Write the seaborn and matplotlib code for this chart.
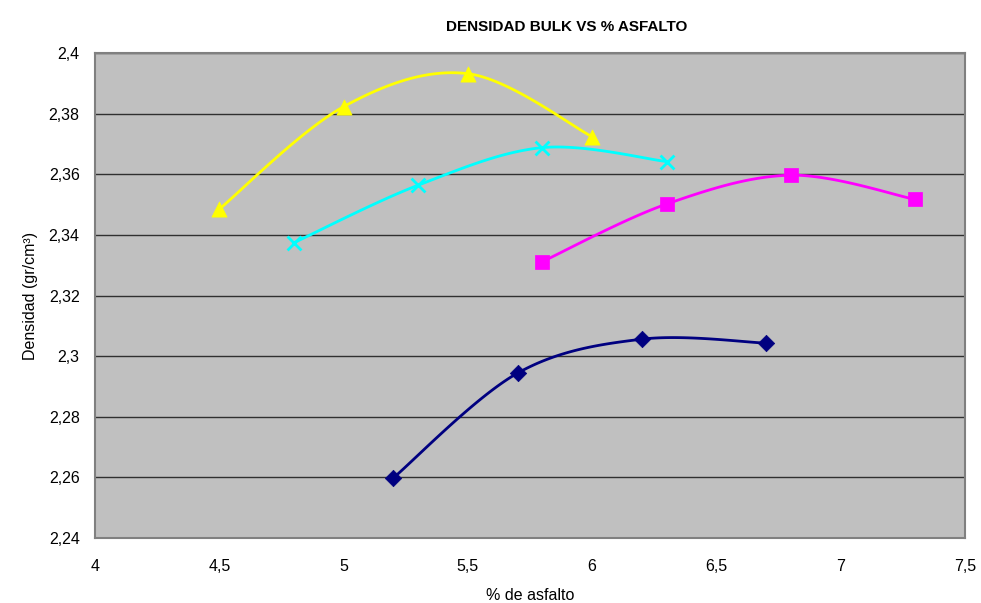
import numpy as np
import pandas as pd
import matplotlib

matplotlib.use("Agg")
import matplotlib.pyplot as plt
import seaborn as sns
from matplotlib.ticker import FuncFormatter, MultipleLocator

# data
x_blue = [5.2, 5.7, 6.2, 6.7]
y_blue = [2.2598, 2.2944, 2.3056, 2.3043]

x_magenta = [5.8, 6.3, 6.8, 7.3]
y_magenta = [2.3312, 2.3502, 2.3597, 2.3517]

x_cyan = [4.8, 5.3, 5.8, 6.3]
y_cyan = [2.3374, 2.3564, 2.3688, 2.3642]

x_yellow = [4.5, 5.0, 5.5, 6.0]
y_yellow = [2.3485, 2.3823, 2.3932, 2.3724]


def smooth(xs, ys, n=40):
    """excel style smoothed line (catmull-rom as bezier)"""
    p = np.column_stack([xs, ys]).astype(float)
    pts = np.vstack([p[0], p, p[-1]])
    t = np.linspace(0, 1, n)[:, None]
    out = []
    for i in range(1, len(pts) - 2):
        p0, p1, p2, p3 = pts[i - 1], pts[i], pts[i + 1], pts[i + 2]
        c1 = p1 + (p2 - p0) / 6
        c2 = p2 - (p3 - p1) / 6
        seg = ((1 - t) ** 3) * p1 + 3 * ((1 - t) ** 2) * t * c1 + 3 * (1 - t) * t ** 2 * c2 + t ** 3 * p2
        out.append(seg)
    out = np.vstack(out)
    return pd.DataFrame({"x": out[:, 0], "y": out[:, 1]})


sns.set_style("white")
plt.rcParams["font.family"] = ["Liberation Sans", "DejaVu Sans"]
plt.rcParams["text.color"] = "black"
plt.rcParams["axes.labelcolor"] = "black"
plt.rcParams["xtick.color"] = "black"
plt.rcParams["ytick.color"] = "black"

fig = plt.figure(figsize=(9.81, 6.03), dpi=100)
ax = fig.add_axes([0.0968, 0.1078, 0.8869, 0.8042])
ax.set_facecolor("#C0C0C0")

series = [
    (x_blue, y_blue, "#000080", "D", 70),
    (x_magenta, y_magenta, "#FF00FF", "s", 95),
    (x_cyan, y_cyan, "#00FFFF", "x", 100),
    (x_yellow, y_yellow, "#FFFF00", "^", 120),
]

for xs, ys, col, mk, sz in series:
    curve = smooth(xs, ys)
    sns.lineplot(data=curve, x="x", y="y", sort=False, color=col, lw=2, ax=ax, zorder=3)
    pts = pd.DataFrame({"x": xs, "y": ys})
    if mk == "x":
        sns.scatterplot(data=pts, x="x", y="y", marker=mk, s=sz, color=col,
                        linewidth=2, ax=ax, zorder=4)
    else:
        sns.scatterplot(data=pts, x="x", y="y", marker=mk, s=sz, color=col,
                        edgecolor=col, linewidth=0.5, ax=ax, zorder=4)

ax.set_xlim(4, 7.5)
ax.set_ylim(2.24, 2.40)
ax.xaxis.set_major_locator(MultipleLocator(0.5))
ax.yaxis.set_major_locator(MultipleLocator(0.02))

comma = FuncFormatter(lambda v, pos: ("%g" % round(v, 2)).replace(".", ","))
ax.xaxis.set_major_formatter(comma)
ax.yaxis.set_major_formatter(comma)

ax.grid(axis="y", color="#303030", lw=1)
ax.grid(axis="x", visible=False)
ax.set_axisbelow(True)

for s in ax.spines.values():
    s.set_color("#808080")
    s.set_linewidth(1.5)

ax.tick_params(axis="both", direction="out", length=5, width=1, color="black",
               labelsize=11.5, pad=6)
ax.tick_params(axis="x", pad=10)

ax.set_xlabel("% de asfalto", fontsize=11.5, labelpad=10)
ax.set_ylabel("Densidad (gr/cm³)", fontsize=11.5, labelpad=8)
fig.text(0.5775, 0.955, "DENSIDAD BULK VS % ASFALTO", ha="center", va="center",
         fontsize=11, fontweight="bold")

fig.savefig("out.png", dpi=100)
